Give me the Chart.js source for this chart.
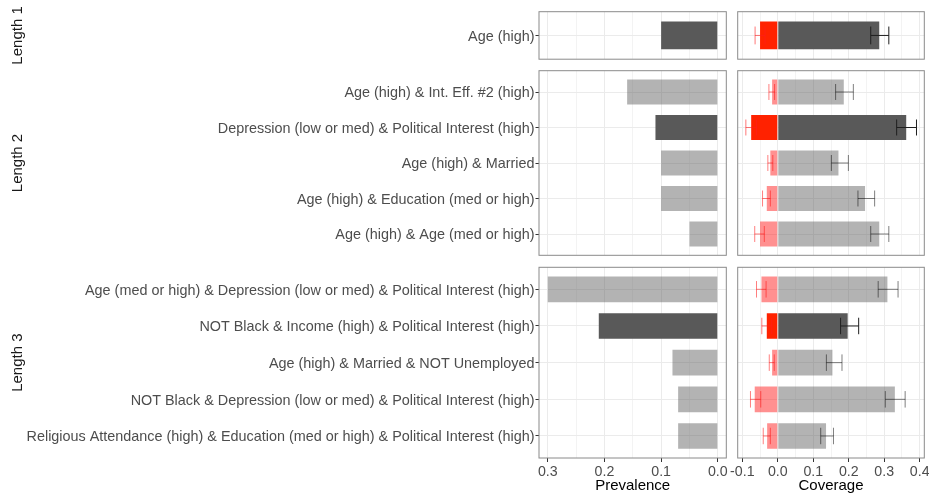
<!DOCTYPE html>
<html>
<head>
<meta charset="utf-8">
<script src="https://cdn.jsdelivr.net/npm/chart.js@4.4.1/dist/chart.umd.min.js"></script>
<style>
  html, body { margin: 0; padding: 0; background: #fff; overflow: hidden; width: 929px; height: 493px; }
  #wrap { position: relative; width: 929px; height: 493px; }
  #wrap canvas { position: absolute; }
</style>
</head>
<body>
<div id="wrap"></div>
<script>
// ---------- data ----------
const groupNames = ['Length 1', 'Length 2', 'Length 3'];

const rulesL1 = ['Age (high)'];
const rulesL2 = [
  'Age (high) & Int. Eff. #2 (high)',
  'Depression (low or med) & Political Interest (high)',
  'Age (high) & Married',
  'Age (high) & Education (med or high)',
  'Age (high) & Age (med or high)'
];
const rulesL3 = [
  'Age (med or high) & Depression (low or med) & Political Interest (high)',
  'NOT Black & Income (high) & Political Interest (high)',
  'Age (high) & Married & NOT Unemployed',
  'NOT Black & Depression (low or med) & Political Interest (high)',
  'Religious Attendance (high) & Education (med or high) & Political Interest (high)'
];

// highlighted (selected) rule in each group
const selectedL1 = [true];
const selectedL2 = [false, true, false, false, false];
const selectedL3 = [false, true, false, false, false];

const prevalenceL1 = [0.10];
const prevalenceL2 = [0.16, 0.11, 0.10, 0.10, 0.05];
const prevalenceL3 = [0.30, 0.21, 0.08, 0.07, 0.07];

// positive coverage with interval
const coverageL1 = [0.286];
const coverageL2 = [0.186, 0.362, 0.171, 0.246, 0.286];
const coverageL3 = [0.309, 0.197, 0.154, 0.330, 0.136];
const coverageLoL1 = [0.262];
const coverageLoL2 = [0.163, 0.335, 0.151, 0.226, 0.262];
const coverageLoL3 = [0.283, 0.177, 0.137, 0.303, 0.121];
const coverageHiL1 = [0.313];
const coverageHiL2 = [0.213, 0.391, 0.199, 0.273, 0.313];
const coverageHiL3 = [0.339, 0.228, 0.181, 0.359, 0.157];

// negative coverage with interval
const negCoverageL1 = [-0.050];
const negCoverageL2 = [-0.016, -0.075, -0.021, -0.031, -0.050];
const negCoverageL3 = [-0.046, -0.031, -0.016, -0.065, -0.030];
const negCoverageLoL1 = [-0.064];
const negCoverageLoL2 = [-0.025, -0.090, -0.028, -0.043, -0.065];
const negCoverageLoL3 = [-0.060, -0.045, -0.024, -0.077, -0.041];
const negCoverageHiL1 = [-0.036];
const negCoverageHiL2 = [-0.009, -0.060, -0.014, -0.021, -0.038];
const negCoverageHiL3 = [-0.033, -0.017, -0.010, -0.048, -0.021];

const prevalenceTicks = [0, 0.05, 0.1, 0.15, 0.2, 0.25, 0.3];
const coverageTicks = [-0.1, -0.05, 0, 0.05, 0.1, 0.15, 0.2, 0.25, 0.3, 0.35, 0.4];

const groups = [
  { name: groupNames[0], rules: rulesL1, sel: selectedL1, prev: prevalenceL1,
    cov: coverageL1, covLo: coverageLoL1, covHi: coverageHiL1,
    neg: negCoverageL1, negLo: negCoverageLoL1, negHi: negCoverageHiL1 },
  { name: groupNames[1], rules: rulesL2, sel: selectedL2, prev: prevalenceL2,
    cov: coverageL2, covLo: coverageLoL2, covHi: coverageHiL2,
    neg: negCoverageL2, negLo: negCoverageLoL2, negHi: negCoverageHiL2 },
  { name: groupNames[2], rules: rulesL3, sel: selectedL3, prev: prevalenceL3,
    cov: coverageL3, covLo: coverageLoL3, covHi: coverageHiL3,
    neg: negCoverageL3, negLo: negCoverageLoL3, negHi: negCoverageHiL3 }
];

// ---------- style ----------
Chart.defaults.font.family = '"Liberation Sans", Arial, Helvetica, sans-serif';
const FONT = '"Liberation Sans", Arial, Helvetica, sans-serif';
const DARK = '#595959';
const LIGHT = 'rgba(89,89,89,0.46)';
const RED = '#ff2200';
const LIGHT_RED = 'rgba(255,20,20,0.47)';
const GRID = '#ebebeb';
const TEXT = '#4d4d4d';

// panel geometry (page pixels)
const PREV_L = 539, PREV_R = 726.3, COV_L = 737.7, COV_R = 924.3;
const panelRows = [
  { top: 11.7, bottom: 59.2 },
  { top: 70.7, bottom: 255.3 },
  { top: 267.3, bottom: 458 }
];
const canvasRows = [
  { y: 0, h: 64 },
  { y: 64, h: 196 },
  { y: 260, h: 233 }
];
const PREV_CANVAS = { x: 0, w: 760 };
const COV_CANVAS = { x: 700, w: 250 };

const wrap = document.getElementById('wrap');
function makeCanvas(x, y, w, h) {
  const c = document.createElement('canvas');
  c.width = w; c.height = h;
  c.style.left = x + 'px'; c.style.top = y + 'px';
  c.style.width = w + 'px'; c.style.height = h + 'px';
  wrap.appendChild(c);
  return c;
}

const isMajor = v => Math.abs(v * 10 - Math.round(v * 10)) < 1e-6;
function zeroPadding(s) { s.paddingLeft = 0; s.paddingRight = 0; s.paddingTop = 0; s.paddingBottom = 0; }

function valueScale(min, max, reverse, ticks, bottom, title, axisHeight) {
  return {
    type: 'linear', min, max, reverse, bounds: 'data', offset: false,
    afterBuildTicks: s => { s.ticks = ticks.map(v => ({ value: v })); },
    afterFit: s => { s.height = bottom ? axisHeight : 0; zeroPadding(s); },
    grid: {
      offset: false,
      color: ctx => GRID,
      lineWidth: ctx => (ctx.tick && isMajor(ctx.tick.value)) ? 1 : 0.6,
      drawTicks: bottom, tickLength: 4, tickWidth: 1,
      tickColor: ctx => (ctx.tick && isMajor(ctx.tick.value)) ? '#333333' : 'rgba(0,0,0,0)'
    },
    border: { display: false },
    ticks: {
      display: bottom, autoSkip: false, maxRotation: 0, minRotation: 0, padding: 1.5,
      color: TEXT, font: { size: 14.2 },
      callback: v => isMajor(v) ? v.toFixed(1) : ''
    },
    title: { display: bottom, text: title, color: '#000', font: { size: 15, lineHeight: 1.0 }, padding: { top: 0, bottom: 0 } }
  };
}

function indexScale(cats, showLabels, width) {
  return {
    type: 'linear', min: -0.6, max: cats.length - 0.4, reverse: true, bounds: 'data', offset: false,
    afterBuildTicks: s => { s.ticks = cats.map((c, i) => ({ value: i })); },
    afterFit: s => { s.width = width; zeroPadding(s); },
    grid: { offset: false, color: GRID, lineWidth: 1, drawTicks: showLabels, tickLength: 3.5, tickWidth: 1, tickColor: '#333333' },
    border: { display: false },
    ticks: {
      display: showLabels, autoSkip: false, padding: 1, labelOffset: 1.5, color: TEXT, font: { size: 14.4 },
      callback: v => cats[Math.round(v)]
    }
  };
}

function framePlugin(strip, stripX) {
  return {
    id: 'panelFrame',
    afterDraw(chart) {
      const { ctx, chartArea: a } = chart;
      ctx.save();
      ctx.strokeStyle = '#8a8a8a';
      ctx.lineWidth = 1;
      ctx.strokeRect(a.left, a.top, a.right - a.left, a.bottom - a.top);
      if (strip) {
        ctx.translate(stripX, (a.top + a.bottom) / 2);
        ctx.rotate(-Math.PI / 2);
        ctx.fillStyle = '#1a1a1a';
        ctx.font = '15px ' + FONT;
        ctx.textAlign = 'center';
        ctx.textBaseline = 'middle';
        ctx.fillText(strip, 0, 0);
      }
      ctx.restore();
    }
  };
}

function errorBarPlugin(sets) {
  return {
    id: 'errorBars',
    afterDatasetsDraw(chart) {
      const xs = chart.scales.x, ys = chart.scales.y, ctx = chart.ctx;
      const capHalf = 0.225;
      ctx.save();
      ctx.lineWidth = 1;
      sets.forEach(set => {
        set.lo.forEach((lo, i) => {
          const x0 = xs.getPixelForValue(lo), x1 = xs.getPixelForValue(set.hi[i]);
          const y = ys.getPixelForValue(i);
          const yT = ys.getPixelForValue(i - capHalf), yB = ys.getPixelForValue(i + capHalf);
          ctx.strokeStyle = set.colors[i];
          ctx.beginPath();
          ctx.moveTo(x0, y); ctx.lineTo(x1, y);
          ctx.moveTo(x0, yT); ctx.lineTo(x0, yB);
          ctx.moveTo(x1, yT); ctx.lineTo(x1, yB);
          ctx.stroke();
        });
      });
      ctx.restore();
    }
  };
}

const baseOptions = {
  responsive: false, animation: false, events: [],
  indexAxis: 'y',
  plugins: { legend: { display: false }, tooltip: { enabled: false } }
};

groups.forEach((g, r) => {
  const pr = panelRows[r], cr = canvasRows[r];
  const isBottom = r === groups.length - 1;
  const axisH = isBottom ? (cr.y + cr.h - pr.bottom) : 0;
  const padTop = pr.top - cr.y;
  const padBottom = isBottom ? 0 : (cr.y + cr.h - pr.bottom);
  const barPct = g.rules.length > 1 ? 0.7 : 0.7 / 1.2;

  // prevalence panel
  const c1 = makeCanvas(PREV_CANVAS.x, cr.y, PREV_CANVAS.w, cr.h);
  new Chart(c1, {
    type: 'bar',
    data: {
      datasets: [{
        data: g.prev.map((v, i) => ({ x: v, y: i })),
        backgroundColor: ctx => g.sel[ctx.dataIndex] ? DARK : LIGHT,
        borderWidth: 0, grouped: false, categoryPercentage: 1, barPercentage: barPct
      }]
    },
    options: Object.assign({}, baseOptions, {
      layout: { padding: { left: 0, right: PREV_CANVAS.x + PREV_CANVAS.w - PREV_R, top: padTop, bottom: padBottom } },
      scales: {
        x: valueScale(-0.015, 0.3155, true, prevalenceTicks, isBottom, 'Prevalence', axisH),
        y: indexScale(g.rules, true, PREV_L - PREV_CANVAS.x)
      }
    }),
    plugins: [framePlugin(g.name, 17.5)]
  });

  // coverage panel
  const c2 = makeCanvas(COV_CANVAS.x, cr.y, COV_CANVAS.w, cr.h);
  new Chart(c2, {
    type: 'bar',
    data: {
      datasets: [
        {
          data: g.neg.map((v, i) => ({ x: v, y: i })),
          backgroundColor: ctx => g.sel[ctx.dataIndex] ? RED : LIGHT_RED,
          borderWidth: 0, grouped: false, categoryPercentage: 1, barPercentage: barPct
        },
        {
          data: g.cov.map((v, i) => ({ x: v, y: i })),
          backgroundColor: ctx => g.sel[ctx.dataIndex] ? DARK : LIGHT,
          borderWidth: 0, grouped: false, categoryPercentage: 1, barPercentage: barPct
        }
      ]
    },
    options: Object.assign({}, baseOptions, {
      layout: { padding: { left: COV_L - COV_CANVAS.x, right: COV_CANVAS.x + COV_CANVAS.w - COV_R, top: padTop, bottom: padBottom } },
      scales: {
        x: valueScale(-0.113, 0.413, false, coverageTicks, isBottom, 'Coverage', axisH),
        y: indexScale(g.rules, false, 0)
      }
    }),
    plugins: [
      errorBarPlugin([
        { lo: g.negLo, hi: g.negHi, colors: g.sel.map(s => s ? 'rgba(255,30,30,0.6)' : 'rgba(255,0,0,0.5)') },
        { lo: g.covLo, hi: g.covHi, colors: g.sel.map(s => s ? '#1f1f1f' : 'rgba(0,0,0,0.5)') }
      ]),
      framePlugin(null, 0)
    ]
  });
});
</script>
</body>
</html>
